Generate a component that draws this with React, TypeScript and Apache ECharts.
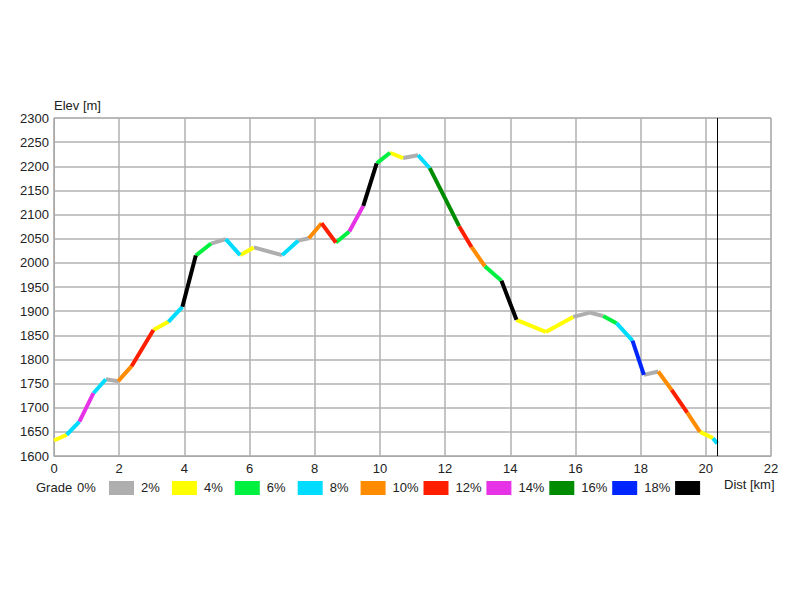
import React, { useEffect, useRef } from "react";
import * as echarts from "echarts";

// distance along route [km]
const dist = [0.0, 0.39, 0.78, 1.21, 1.59, 1.97, 2.38, 3.05, 3.51, 3.94, 4.35, 4.82, 5.27, 5.71, 6.13, 7.0, 7.49, 7.82, 8.21, 8.65, 9.06, 9.49, 9.9, 10.31, 10.71, 11.17, 11.53, 12.43, 12.81, 13.22, 13.73, 14.19, 15.09, 15.93, 16.44, 16.85, 17.26, 17.75, 18.1, 18.54, 18.95, 19.43, 19.82, 20.22, 20.35];
// elevation [m]
const elev = [1632, 1644, 1671, 1730, 1759, 1755, 1786, 1861, 1878, 1909, 2015, 2040, 2049, 2016, 2032, 2016, 2046, 2051, 2082, 2042, 2065, 2118, 2206, 2228, 2217, 2223, 2196, 2076, 2033, 1993, 1963, 1882, 1857, 1888, 1897, 1890, 1875, 1839, 1768, 1775, 1737, 1690, 1650, 1637, 1626];
// grade class of each segment (index into gradeLabels / gradeColors)
const segClass = [1, 3, 6, 3, 0, 4, 5, 1, 3, 9, 2, 0, 3, 1, 0, 3, 0, 4, 5, 2, 6, 9, 2, 1, 0, 3, 7, 5, 4, 2, 9, 1, 1, 0, 0, 2, 3, 8, 0, 4, 5, 4, 1, 3];
const gradeLabels = ["0%", "2%", "4%", "6%", "8%", "10%", "12%", "14%", "16%", "18%"];
const gradeColors = ["#aeaeae", "#ffff00", "#00f040", "#00dcff", "#ff8c00", "#ff1e00", "#e633e6", "#008c00", "#0026ff", "#000000"];
const xTicks = [0, 2, 4, 6, 8, 10, 12, 14, 16, 18, 20, 22];
const yMin = 1600;
const yMax = 2300;
const yStep = 50;
const endDist = 20.34;

const FONT = "Liberation Sans, Arial, sans-serif";

export default function App() {
  const ref = useRef<HTMLDivElement>(null);
  useEffect(() => {
    if (!ref.current) return;
    const chart = echarts.init(ref.current, null, { renderer: "svg" });

    const series: any[] = gradeColors.map((c, k) => {
      const data: any[] = [];
      segClass.forEach((cls, i) => {
        if (cls !== k) return;
        if (data.length) data.push([dist[i], "-"]);
        data.push([dist[i], elev[i]]);
        data.push([dist[i + 1], elev[i + 1]]);
      });
      return {
        type: "line",
        name: gradeLabels[k],
        data,
        showSymbol: false,
        connectNulls: false,
        lineStyle: { color: c, width: 4, cap: "butt" },
        itemStyle: { color: c },
        silent: true,
        z: 3,
      };
    });
    series.push({
      type: "line",
      data: [],
      silent: true,
      markLine: {
        symbol: "none",
        silent: true,
        label: { show: false },
        lineStyle: { color: "#000", width: 1, type: "solid" },
        data: [{ xAxis: endDist }],
      },
    });

    const graphics: any[] = [
      { type: "text", left: 36, top: 481, style: { text: "Grade", font: `13px ${FONT}`, fill: "#222" } },
      { type: "text", left: 77, top: 481, style: { text: gradeLabels[0], font: `13px ${FONT}`, fill: "#222" } },
    ];
    gradeColors.forEach((c, k) => {
      const x = 109 + k * 62.9;
      graphics.push({ type: "rect", shape: { x, y: 481, width: 25, height: 14 }, style: { fill: c } });
      if (k < gradeLabels.length - 1) {
        graphics.push({ type: "text", left: x + 32, top: 481, style: { text: gradeLabels[k + 1], font: `13px ${FONT}`, fill: "#222" } });
      }
    });
    graphics.push({ type: "text", left: 724, top: 478, style: { text: "Dist [km]", font: `13px ${FONT}`, fill: "#222" } });

    chart.setOption({
      animation: false,
      backgroundColor: "#fff",
      grid: { left: 54, right: 29, top: 118, bottom: 144, show: true, borderColor: "#a8a8a8", borderWidth: 1 },
      xAxis: {
        type: "value",
        min: xTicks[0],
        max: xTicks[xTicks.length - 1],
        interval: 2,
        axisLine: { show: true, lineStyle: { color: "#a8a8a8" } },
        axisTick: { show: false },
        axisLabel: { color: "#222", fontSize: 13, fontFamily: FONT, margin: 6, formatter: (v: number) => String(v) },
        splitLine: { show: true, lineStyle: { color: "#b0b0b0", width: 1.5 } },
      },
      yAxis: {
        type: "value",
        min: yMin,
        max: yMax,
        interval: yStep,
        name: "Elev [m]",
        nameLocation: "end",
        nameGap: 2,
        nameTextStyle: { color: "#222", fontSize: 13, fontFamily: FONT, align: "left" },
        axisLine: { show: true, lineStyle: { color: "#a8a8a8" } },
        axisTick: { show: false },
        axisLabel: { color: "#222", fontSize: 13, fontFamily: FONT, margin: 5, formatter: (v: number) => String(v) },
        splitLine: { show: true, lineStyle: { color: "#b0b0b0", width: 1.5 } },
      },
      graphic: graphics,
      series,
    });
    return () => chart.dispose();
  }, []);
  return <div ref={ref} style={{ width: 800, height: 600, position: "absolute", left: 0, top: 0 }} />;
}
